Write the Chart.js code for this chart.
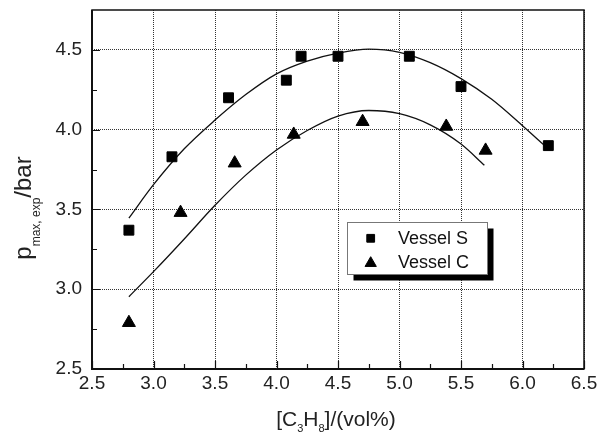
<!DOCTYPE html>
<html>
<head>
<meta charset="utf-8">
<script src="https://cdn.jsdelivr.net/npm/chart.js@4/dist/chart.umd.min.js"></script>
<style>
  html, body { margin: 0; padding: 0; background: #fff; }
  canvas { display: block; }
</style>
</head>
<body>
<canvas id="chart" width="609" height="435"></canvas>
<script>
const FONT = '"Liberation Sans", Arial, Helvetica, sans-serif';

// Measured peak explosion pressures, propane concentration in vol%
const vesselS_x = [2.80, 3.15, 3.61, 4.08, 4.20, 4.50, 5.08, 5.50, 6.21];
const vesselS_y = [3.37, 3.83, 4.20, 4.31, 4.46, 4.46, 4.46, 4.27, 3.90];
const vesselC_x = [2.80, 3.22, 3.66, 4.14, 4.70, 5.38, 5.70];
const vesselC_y = [2.79, 3.48, 3.79, 3.97, 4.05, 4.02, 3.87];

// Fitted trend curves through each vessel's data
const fitS_x = [2.80, 3.00, 3.25, 3.50, 3.75, 4.00, 4.25, 4.50, 4.75, 5.00, 5.25, 5.50, 5.75, 6.00, 6.18];
const fitS_y = [3.446, 3.655, 3.88, 4.06, 4.22, 4.35, 4.43, 4.48, 4.505, 4.485, 4.42, 4.32, 4.19, 4.025, 3.90];
const fitC_x = [2.80, 3.00, 3.25, 3.50, 3.75, 4.00, 4.25, 4.50, 4.75, 5.00, 5.25, 5.50, 5.69];
const fitC_y = [2.953, 3.11, 3.315, 3.526, 3.715, 3.873, 3.995, 4.085, 4.12, 4.10, 4.03, 3.91, 3.777];

// Axis ticks
const xTicks = [2.5, 3.0, 3.5, 4.0, 4.5, 5.0, 5.5, 6.0, 6.5];
const yTicks = [2.5, 3.0, 3.5, 4.0, 4.5];
const xMinor = [2.75, 3.25, 3.75, 4.25, 4.75, 5.25, 5.75, 6.25];
const yMinor = [2.75, 3.25, 3.75, 4.25];

const legendLabels = ['Vessel S', 'Vessel C'];

const pts = (xs, ys) => xs.map((x, i) => ({ x: x, y: ys[i] }));

// Frame, inward ticks, axis titles with subscripts and the shadowed legend
const decorations = {
  id: 'decorations',
  afterDraw(chart) {
    const ctx = chart.ctx;
    const a = chart.chartArea;
    const xs = chart.scales.x, ys = chart.scales.y;
    ctx.save();

    // inward tick marks
    ctx.strokeStyle = '#111';
    ctx.lineWidth = 1.2;
    ctx.beginPath();
    xTicks.forEach(v => { const p = Math.round(xs.getPixelForValue(v)) + 0.5; ctx.moveTo(p, a.bottom); ctx.lineTo(p, a.bottom - 8); });
    xMinor.forEach(v => { const p = Math.round(xs.getPixelForValue(v)) + 0.5; ctx.moveTo(p, a.bottom); ctx.lineTo(p, a.bottom - 5); });
    yTicks.forEach(v => { const p = Math.round(ys.getPixelForValue(v)) + 0.5; ctx.moveTo(a.left, p); ctx.lineTo(a.left + 8, p); });
    yMinor.forEach(v => { const p = Math.round(ys.getPixelForValue(v)) + 0.5; ctx.moveTo(a.left, p); ctx.lineTo(a.left + 5, p); });
    ctx.stroke();

    // plot frame
    ctx.strokeStyle = '#111';
    ctx.lineWidth = 1.5;
    ctx.strokeRect(a.left, a.top, a.right - a.left, a.bottom - a.top);
    ctx.lineWidth = 2;
    ctx.beginPath();
    ctx.moveTo(a.left, a.top); ctx.lineTo(a.left, a.bottom); ctx.lineTo(a.right, a.bottom);
    ctx.stroke();

    // x title: [C3H8]/(vol%)
    ctx.fillStyle = '#222';
    ctx.textBaseline = 'alphabetic';
    ctx.textAlign = 'left';
    const main = '21px ' + FONT, sub = '11px ' + FONT;
    const xParts = [['[C', main, 0], ['3', sub, 6], ['H', main, 0], ['8', sub, 6], [']/(vol%)', main, 0]];
    let w = 0;
    xParts.forEach(p => { ctx.font = p[1]; w += ctx.measureText(p[0]).width; });
    let cx = (a.left + a.right) / 2 - w / 2 - 2;
    xParts.forEach(p => { ctx.font = p[1]; ctx.fillText(p[0], cx, 426 + p[2]); cx += ctx.measureText(p[0]).width; });

    // y title: p_max, exp / bar (rotated)
    const ymain = '24px ' + FONT, ysub = '12px ' + FONT;
    const yParts = [['p', ymain, 0], ['max, exp', ysub, 9], ['/bar', ymain, 0]];
    w = 0;
    yParts.forEach(p => { ctx.font = p[1]; w += ctx.measureText(p[0]).width; });
    ctx.translate(31, 208);
    ctx.rotate(-Math.PI / 2);
    cx = -w / 2;
    yParts.forEach(p => { ctx.font = p[1]; ctx.fillText(p[0], cx, p[2]); cx += ctx.measureText(p[0]).width; });
    ctx.setTransform(1, 0, 0, 1, 0, 0);

    // legend with drop shadow
    const bx = 347.5, by = 222.5, bw = 140, bh = 52;
    ctx.fillStyle = '#000';
    ctx.fillRect(bx + 6, by + 6, bw, bh);
    ctx.fillStyle = '#fff';
    ctx.fillRect(bx, by, bw, bh);
    ctx.strokeStyle = '#777';
    ctx.lineWidth = 1;
    ctx.strokeRect(bx, by, bw, bh);
    const rows = [238.3, 261.7];
    const styles = [{ pointStyle: 'rect', radius: 5.5 }, { pointStyle: 'triangle', radius: 6.5 }];
    rows.forEach((ry, i) => {
      ctx.fillStyle = '#000';
      ctx.strokeStyle = '#000';
      ctx.lineWidth = 1;
      Chart.helpers.drawPoint(ctx, { pointStyle: styles[i].pointStyle, radius: styles[i].radius, rotation: 0, borderWidth: 1 }, 370.7, ry + (i === 1 ? 1.5 : 0));
      ctx.fillStyle = '#111';
      ctx.font = '18px ' + FONT;
      ctx.textBaseline = 'middle';
      ctx.fillText(legendLabels[i], 398, ry + 1);
    });
    ctx.restore();
  }
};

new Chart(document.getElementById('chart'), {
  type: 'scatter',
  data: {
    datasets: [
      { label: legendLabels[0], data: pts(vesselS_x, vesselS_y), pointStyle: 'rect', pointRadius: 7, pointBorderWidth: 1,
        backgroundColor: '#000', borderColor: '#000', showLine: false },
      { label: legendLabels[1], data: pts(vesselC_x, vesselC_y), pointStyle: 'triangle', pointRadius: 7.5, pointBorderWidth: 1,
        backgroundColor: '#000', borderColor: '#000', showLine: false },
      { label: 'fit S', data: pts(fitS_x, fitS_y), showLine: true, pointRadius: 0, borderColor: '#111', borderWidth: 1.3,
        cubicInterpolationMode: 'monotone', fill: false },
      { label: 'fit C', data: pts(fitC_x, fitC_y), showLine: true, pointRadius: 0, borderColor: '#111', borderWidth: 1.3,
        cubicInterpolationMode: 'monotone', fill: false }
    ]
  },
  options: {
    responsive: false,
    animation: false,
    events: [],
    layout: { padding: { left: 0, top: 10, right: 25, bottom: 0 } },
    plugins: { legend: { display: false }, tooltip: { enabled: false } },
    scales: {
      x: {
        type: 'linear', min: 2.5, max: 6.5,
        afterBuildTicks: s => { s.ticks = xTicks.map(v => ({ value: v })); },
        afterFit: s => { s.height = 66; s.paddingLeft = 0; s.paddingRight = 0; s.paddingTop = 0; s.paddingBottom = 0; },
        grid: { color: '#333', lineWidth: 1, drawTicks: false },
        border: { display: false, dash: [1, 1] },
        ticks: { padding: 3, color: '#222', font: { family: FONT, size: 19 }, callback: v => v.toFixed(1) }
      },
      y: {
        type: 'linear', min: 2.5, max: 4.75,
        afterBuildTicks: s => { s.ticks = yTicks.map(v => ({ value: v })); },
        afterFit: s => { s.width = 92; s.paddingLeft = 0; s.paddingRight = 0; s.paddingTop = 0; s.paddingBottom = 0; },
        grid: { color: '#333', lineWidth: 1, drawTicks: false },
        border: { display: false, dash: [1, 1] },
        ticks: { padding: 10, color: '#222', font: { family: FONT, size: 19 }, callback: v => v.toFixed(1) }
      }
    }
  },
  plugins: [decorations]
});
</script>
</body>
</html>
